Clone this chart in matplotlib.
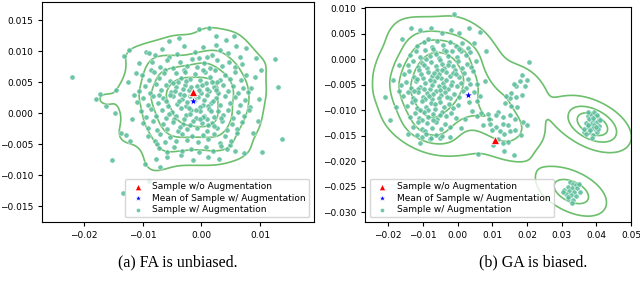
import numpy as np
import matplotlib
matplotlib.use("Agg")
import matplotlib.pyplot as plt
import seaborn as sns

# points, in units of 1e-3
pts_fa = [
    # sparse outer points
    (-22.1, 5.8), (-17.3, 3.1), (-18.0, 2.3), (-16.3, 1.1), (-14.6, 3.7), (-14.7, 0.0),
    (-15.3, -7.5), (-13.4, -12.9), (-13.7, -3.2), (-12.9, -3.5), (-13.2, 9.2), (-12.3, 10.2),
    (-11.1, 6.5), (-12.5, 5.0), (-9.5, 9.9), (-8.9, 9.7), (-8.0, 9.4), (-8.6, 7.0),
    (-9.7, -8.1), (-9.0, -10.9), (-5.5, 11.6), (-3.8, 12.1), (-0.5, 13.5), (1.3, 13.7),
    (2.5, 12.4), (4.2, 11.8), (5.6, 12.5), (7.6, 10.5), (6.5, 9.1), (9.3, 8.9),
    (12.5, 8.7), (13.1, 4.2), (9.9, 2.3), (9.2, 5.8), (8.5, 4.0), (13.8, -4.2),
    (10.4, -6.2), (5.8, -6.1), (4.8, -5.1), (1.2, -7.0), (-1.5, -7.5), (-3.5, -6.7),
    (-5.8, -7.0), (-7.7, -7.3), (-11.8, -1.0), (-12.2, -4.4), (-11.5, 2.9), (8.8, -3.2),
    (9.6, -1.2), (10.1, 7.0), (-7.0, -8.6), (3.0, -7.3), (7.2, -6.4), (-10.6, 8.1),
    # core
    (-6.8, 10.3), (-4.2, 9.6), (-2.9, 10.8), (-1.1, 9.9), (0.3, 10.6), (1.8, 9.4),
    (3.2, 10.1), (4.6, 9.7), (-5.5, 9.1), (2.4, 11.0), (-0.4, 8.9), (5.9, 10.9),
    (-8.4, 8.2), (-7.1, 7.5), (-5.9, 8.6), (-4.8, 7.3), (-3.6, 8.3), (-2.5, 7.6),
    (-1.6, 8.7), (-0.7, 7.4), (0.5, 8.1), (1.4, 7.2), (2.6, 8.5), (3.5, 7.6),
    (4.7, 8.2), (5.8, 7.4), (6.9, 8.0), (-3.0, 7.0), (0.9, 9.0), (-6.3, 7.0),
    (-10.2, 6.1), (-9.0, 5.4), (-8.1, 6.6), (-7.2, 5.7), (-6.4, 6.4), (-5.3, 5.2),
    (-4.4, 6.5), (-3.5, 5.6), (-2.8, 6.7), (-1.9, 5.5), (-1.1, 6.3), (-0.2, 5.3),
    (0.6, 6.6), (1.5, 5.8), (2.3, 6.9), (3.1, 5.4), (4.0, 6.2), (4.9, 5.5),
    (5.8, 6.6), (6.7, 5.3), (7.6, 6.1), (-4.0, 5.0), (0.2, 7.0), (2.7, 5.1),
    (-10.6, 3.6), (-9.6, 4.4), (-8.7, 3.3), (-7.8, 4.7), (-6.9, 3.8), (-6.0, 4.5),
    (-5.2, 3.4), (-4.3, 4.3), (-3.6, 3.1), (-2.8, 4.6), (-2.1, 3.7), (-0.8, 4.4),
    (-0.1, 3.2), (0.7, 4.8), (1.3, 3.6), (2.1, 4.3), (2.9, 3.3), (3.7, 4.6),
    (4.5, 3.5), (5.4, 4.4), (6.2, 3.2), (7.1, 4.1), (8.0, 3.4), (-4.8, 4.9),
    (-1.2, 3.0), (1.8, 5.0), (-7.3, 3.0),
    (-11.0, 1.8), (-9.9, 2.5), (-9.1, 1.3), (-8.2, 2.8), (-7.4, 1.6), (-6.6, 2.4),
    (-5.7, 1.2), (-4.9, 2.7), (-4.1, 1.5), (-3.3, 2.3), (-2.6, 1.1), (-1.9, 2.8),
    (-0.6, 2.6), (0.2, 1.4), (0.9, 2.9), (1.6, 1.7), (2.4, 2.5), (3.2, 1.3),
    (4.1, 2.8), (4.9, 1.6), (5.8, 2.6), (6.6, 1.4), (7.5, 2.2), (8.3, 1.0),
    (-2.9, 2.9), (-0.2, 1.0), (1.2, 1.1), (-5.3, 2.9),
    (-10.3, 0.4), (-9.4, -0.6), (-8.6, 0.7), (-7.7, -0.4), (-6.8, 0.5), (-6.0, -0.8),
    (-5.1, 0.2), (-4.3, -0.5), (-3.5, 0.8), (-2.7, -0.3), (-1.8, 0.6), (-1.0, -0.7),
    (-0.3, 0.3), (0.5, -0.4), (1.3, 0.7), (2.1, -0.6), (2.9, 0.4), (3.7, -0.3),
    (4.6, 0.6), (5.4, -0.7), (6.3, 0.2), (7.2, -0.5), (8.1, 0.5), (-2.2, 0.9),
    (0.9, -0.9), (-4.7, -0.9),
    (-10.0, -1.6), (-9.2, -2.4), (-8.3, -1.3), (-7.5, -2.7), (-6.6, -1.8), (-5.8, -2.5),
    (-4.9, -1.4), (-4.0, -2.8), (-3.2, -1.7), (-2.4, -2.6), (-1.5, -1.2), (-0.7, -2.3),
    (0.1, -1.5), (0.9, -2.8), (1.8, -1.6), (2.6, -2.4), (3.5, -1.3), (4.3, -2.7),
    (5.2, -1.8), (6.1, -2.5), (7.0, -1.4), (-3.6, -2.2), (2.2, -2.0),
    (-9.1, -3.6), (-8.0, -4.4), (-7.1, -3.3), (-6.2, -4.7), (-5.3, -3.8), (-4.4, -4.5),
    (-3.4, -3.4), (-2.5, -4.3), (-1.6, -3.7), (-0.6, -4.6), (0.3, -3.5), (1.2, -4.2),
    (2.2, -3.3), (3.1, -4.8), (4.0, -3.6), (5.0, -4.4), (6.0, -3.2), (-7.6, -4.9),
    (-7.2, -5.6), (-5.9, -6.2), (-4.6, -5.4), (-3.3, -6.0), (-1.8, -5.7), (-0.5, -6.3),
    (0.8, -5.5), (2.0, -6.1), (3.4, -5.3), (4.4, -5.8),
    # extra points in the dense middle
    (-3.1, 3.9), (-1.7, 4.2), (-0.4, 3.7), (0.9, 3.9), (-2.4, 1.8), (-1.1, 2.1),
    (0.4, 2.2), (-3.8, 1.9), (-2.0, -0.2), (-0.9, 0.5), (0.2, -0.6), (1.7, 0.3),
    (-3.0, -0.9), (-1.9, -1.9), (-0.3, -1.0), (1.1, -1.9), (-4.5, 3.6), (2.5, 3.8),
    (-5.5, -0.1), (3.3, -0.8), (-2.6, 5.2), (0.1, 4.6), (1.9, 2.0), (-6.1, 2.0),
]

pts_ga = [
    # sparse outer points
    (-1.0, 8.8), (-20.9, -7.5), (-19.4, -12.0), (-17.7, -9.4), (-18.5, -4.0), (-15.9, 3.9),
    (-13.5, 6.0), (-10.8, 5.7), (-7.8, 6.0), (-4.6, 5.1), (0.3, 5.2), (3.3, 6.0),
    (6.4, 5.3), (8.3, 1.6), (7.8, -4.2), (5.5, -4.9), (5.6, -11.2), (9.0, -11.8),
    (5.9, -18.5), (-10.8, -16.4), (-14.2, -14.6), (-7.9, -15.6), (-5.1, -15.5), (-2.2, -15.3),
    (-17.0, -6.3), (-16.8, -1.2), (-2.0, 5.6), (4.6, 3.2),
    # main cluster
    (-11.8, 2.6), (-9.6, 3.3), (-7.4, 2.4), (-5.8, 3.6), (-4.1, 2.7), (-2.3, 3.4),
    (-0.6, 2.5), (1.2, 3.1), (2.9, 2.2), (-8.5, 3.9),
    (-13.6, 0.8), (-12.1, 1.5), (-10.7, 0.4), (-9.3, 1.7), (-8.0, 0.6), (-6.6, 1.4),
    (-5.3, 0.3), (-4.0, 1.8), (-2.8, 0.7), (-1.5, 1.5), (-0.2, 0.4), (1.1, 1.6),
    (2.4, 0.8), (3.7, 1.3), (-7.2, 1.9), (0.5, 1.9),
    (-14.2, -1.2), (-12.8, -0.4), (-11.5, -1.6), (-10.2, -0.7), (-8.9, -1.8), (-7.6, -0.5),
    (-6.3, -1.3), (-5.0, -0.2), (-3.8, -1.7), (-2.5, -0.6), (-1.3, -1.4), (0.0, -0.3),
    (1.3, -1.8), (2.6, -0.9), (4.0, -1.5), (5.2, -0.4), (-9.6, -1.1), (-4.4, -1.0),
    (-15.4, -3.0), (-13.9, -2.4), (-12.6, -3.5), (-11.2, -2.2), (-9.9, -3.7), (-8.6, -2.6),
    (-7.3, -3.3), (-6.0, -2.1), (-4.7, -3.8), (-3.4, -2.5), (-2.1, -3.4), (-0.8, -2.2),
    (0.5, -3.6), (1.8, -2.7), (3.1, -3.9), (4.3, -2.4), (-10.5, -2.9), (-5.4, -2.9),
    (-1.4, -2.8),
    (-16.2, -5.1), (-14.8, -4.4), (-13.4, -5.6), (-12.0, -4.3), (-10.7, -5.4), (-9.3, -4.6),
    (-8.0, -5.8), (-6.7, -4.2), (-5.4, -5.3), (-4.1, -4.7), (-2.8, -5.9), (-1.5, -4.4),
    (-0.2, -5.2), (1.1, -4.6), (2.4, -5.7), (3.6, -4.9), (-11.4, -5.9), (-7.4, -5.0),
    (-3.3, -4.1),
    (-15.7, -7.2), (-14.2, -6.5), (-12.8, -7.6), (-11.4, -6.4), (-10.1, -7.4), (-8.7, -6.6),
    (-7.4, -7.8), (-6.1, -6.3), (-4.8, -7.1), (-3.5, -6.5), (-2.2, -7.7), (-0.9, -6.8),
    (0.3, -7.5), (1.5, -6.2), (-9.4, -7.9), (-5.5, -7.6),
    (-14.6, -9.2), (-13.1, -8.5), (-11.8, -9.6), (-10.4, -8.3), (-9.1, -9.4), (-7.8, -8.6),
    (-6.5, -9.8), (-5.2, -8.4), (-3.9, -9.3), (-2.6, -8.7), (-1.3, -9.6), (0.1, -8.9),
    (-12.4, -8.1), (-8.4, -9.9),
    (-13.8, -11.3), (-12.4, -10.5), (-11.1, -11.6), (-9.7, -10.4), (-8.4, -11.4), (-7.1, -10.7),
    (-5.8, -11.8), (-4.5, -10.3), (-3.2, -11.2), (-1.9, -10.6), (-0.6, -11.5), (-10.4, -11.9),
    (-12.9, -13.2), (-11.5, -12.4), (-10.2, -13.6), (-8.8, -12.6), (-7.5, -13.4), (-6.2, -12.3),
    (-4.9, -13.7), (-3.5, -12.8), (-2.1, -13.3), (-9.5, -14.1),
    (-11.8, -14.9), (-10.3, -15.2), (-9.0, -14.6), (-7.6, -15.4), (-6.1, -14.8), (-4.4, -15.0),
    (4.8, -6.5), (5.5, -8.2), (6.4, -7.3), (3.2, -8.4), (4.1, -10.1), (2.2, -11.8),
    (1.0, -13.5), (6.8, -10.5),
    # extra points in the dense middle
    (-6.9, -2.7), (-4.4, -2.2), (-2.9, -1.1), (-8.1, -4.0), (-5.9, -3.6), (-3.9, -5.5),
    (-7.0, -6.9), (-5.1, -6.1), (-9.8, -5.9), (-8.3, -7.2), (-6.4, -8.7), (-3.1, -7.4),
    (-10.7, -9.9), (-7.2, -12.0), (-5.0, -10.9), (-1.8, -5.1), (-0.4, -3.0), (-9.0, 0.1),
    (-6.1, 0.9), (-3.3, 1.6), (-11.6, -3.9), (-12.6, -6.3),
    # tail toward the right
    (20.6, -0.5), (18.7, -3.1), (17.9, -4.2), (16.9, -5.3), (16.2, -4.9), (19.3, -5.3),
    (18.7, -7.1), (16.7, -7.5), (15.0, -7.7), (14.1, -7.3), (13.6, -8.6), (15.5, -9.1),
    (17.2, -9.4), (11.7, -10.4), (11.2, -10.9), (13.1, -11.4), (15.0, -11.0), (16.5, -11.7),
    (18.9, -12.3), (20.1, -12.9), (13.1, -12.7), (14.5, -13.0), (11.2, -13.3), (12.1, -14.0),
    (13.5, -14.6), (15.0, -14.1), (16.5, -13.9), (18.4, -14.9), (13.1, -16.4), (14.5, -16.2),
    (13.5, -17.9), (16.2, -18.7), (10.2, -16.9), (9.3, -12.7), (8.8, -10.7), (7.4, -13.0),
    (9.8, -13.8), (11.7, -15.6), (15.3, -6.6), (20.0, -4.1),
    # cluster near (0.039, -0.013)
    (37.5, -11.2), (38.5, -10.8), (39.7, -11.2), (40.7, -11.7), (38.0, -11.8), (39.1, -12.1),
    (40.1, -12.3), (36.9, -12.5), (38.5, -12.7), (39.4, -12.9), (40.9, -13.1), (37.5, -13.3),
    (38.9, -13.5), (39.9, -13.8), (36.4, -14.2), (38.0, -14.3), (39.1, -14.8), (40.3, -14.3),
    (38.7, -15.5), (36.9, -14.6), (41.2, -12.0), (37.7, -10.4), (39.3, -10.4), (40.4, -13.6),
    (38.3, -13.8), (39.8, -13.2), (37.5, -12.9), (38.9, -11.6), (40.1, -11.0), (36.4, -13.6),
    # cluster near (0.033, -0.026)
    (32.4, -24.0), (33.2, -24.4), (34.2, -24.7), (31.7, -25.0), (32.9, -25.3), (34.5, -25.3),
    (30.7, -25.6), (32.2, -25.8), (33.7, -26.0), (35.2, -26.1), (31.2, -26.5), (32.7, -26.6),
    (34.2, -26.8), (31.9, -27.3), (33.3, -27.5), (33.1, -28.2), (34.9, -24.5), (30.4, -26.1),
    (31.7, -27.0),
]

orig_fa = (-1.5, 3.4)
mean_fa = (-1.4, 1.9)
orig_ga = (10.9, -15.9)
mean_ga = (2.9, -7.1)

pt_color = "#55bc98"
line_color = "#6cbf6c"

fig = plt.figure(figsize=(6.4, 2.91), dpi=100)
ax1 = fig.add_axes([42 / 640, 1 - 222 / 291, 272 / 640, 220 / 291])
ax2 = fig.add_axes([365 / 640, 1 - 222 / 291, 266 / 640, 215 / 291])

# (axes, points, markers, limits, legend spot, kde thresh, bandwidth factor)
panels = [
    (ax1, pts_fa, orig_fa, mean_fa, (-0.0272, 0.0192), (-0.0175, 0.0179), "lower right", 0.1, 0.8),
    (ax2, pts_ga, orig_ga, mean_ga, (-0.0267, 0.05), (-0.0319, 0.0102), "lower left", 0.06, 0.8),
]

for ax, pts, orig, mean, xlim, ylim, loc, thr, bw in panels:
    xy = np.array(pts) * 1e-3
    sns.kdeplot(x=xy[:, 0], y=xy[:, 1], levels=5, thresh=thr, bw_adjust=bw,
                color=line_color, linewidths=1.2, ax=ax)
    ax.scatter(orig[0] * 1e-3, orig[1] * 1e-3, marker="^", s=36, color="red",
               edgecolor="white", linewidth=0.6, zorder=4, label="Sample w/o Augmentation")
    ax.scatter(mean[0] * 1e-3, mean[1] * 1e-3, marker="*", s=48, color="blue",
               edgecolor="white", linewidth=0.6, zorder=4, label="Mean of Sample w/ Augmentation")
    ax.scatter(xy[:, 0], xy[:, 1], s=14, color=pt_color, alpha=0.85,
               edgecolor="white", linewidth=0.4, zorder=3, label="Sample w/ Augmentation")
    ax.set_xlim(*xlim)
    ax.set_ylim(*ylim)
    ax.set_xlabel("")
    ax.set_ylabel("")
    ax.tick_params(labelsize=6.5, length=3, width=0.8)
    ax.legend(loc=loc, fontsize=6.5, handletextpad=0.6, borderpad=0.4,
              labelspacing=0.25, markerscale=0.8)

ax1.set_xticks([-0.02, -0.01, 0.0, 0.01])
ax1.set_yticks([-0.015, -0.010, -0.005, 0.0, 0.005, 0.010, 0.015])
ax2.set_xticks([-0.02, -0.01, 0.0, 0.01, 0.02, 0.03, 0.04, 0.05])
ax2.set_yticks([-0.030, -0.025, -0.020, -0.015, -0.010, -0.005, 0.0, 0.005, 0.010])
ax1.yaxis.set_major_formatter(matplotlib.ticker.FormatStrFormatter("%.3f"))
ax2.yaxis.set_major_formatter(matplotlib.ticker.FormatStrFormatter("%.3f"))
ax1.xaxis.set_major_formatter(matplotlib.ticker.FormatStrFormatter("%.2f"))
ax2.xaxis.set_major_formatter(matplotlib.ticker.FormatStrFormatter("%.2f"))
for ax in (ax1, ax2):
    ax.set_yticklabels([t.get_text().replace("-", "\u2212") for t in ax.get_yticklabels()])
    ax.set_xticklabels([t.get_text().replace("-", "\u2212") for t in ax.get_xticklabels()])

fig.text(178 / 640, 1 - 262 / 291, "(a) FA is unbiased.", ha="center", va="center",
         family="Liberation Serif", fontsize=11.5)
fig.text(533 / 640, 1 - 262 / 291, "(b) GA is biased.", ha="center", va="center",
         family="Liberation Serif", fontsize=11.5)

fig.savefig("out.png", dpi=100)
